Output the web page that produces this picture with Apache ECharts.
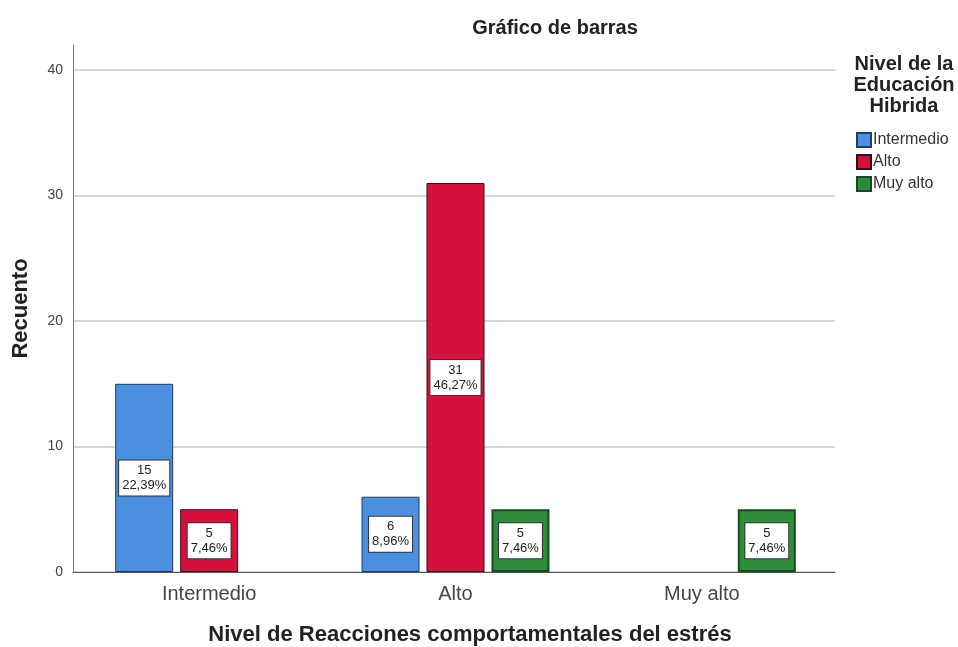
<!DOCTYPE html>
<html>
<head>
<meta charset="utf-8">
<script src="https://cdn.jsdelivr.net/npm/echarts@6/dist/echarts.min.js"></script>
<style>
  html, body { margin: 0; padding: 0; background: #fff; }
  #chart { width: 958px; height: 647px; }
</style>
</head>
<body>
<div id="chart"></div>
<script>
// categorias del eje x
var categorias = ['Intermedio', 'Alto', 'Muy alto']
// recuentos por nivel de educación hibrida (null = sin barra)
var intermedio = [15, 6, null]
var alto = [5, 31, null]
var muyAlto = [null, 5, 5]
var total = 67
var yTicks = [0, 10, 20, 30, 40]

var fuente = 'Liberation Sans, Arial, sans-serif'
var chart = echarts.init(document.getElementById('chart'))

function etiqueta(p) {
    var pct = (p.value / total * 100).toFixed(2).replace('.', ',')
    return p.value + '\n' + pct + '%'
}

var labelStyle = {
    show: true,
    position: 'inside',
    formatter: etiqueta,
    color: '#222',
    fontFamily: fuente,
    fontSize: 13,
    lineHeight: 15,
    backgroundColor: '#fff',
    borderColor: '#333',
    borderWidth: 1,
    padding: [3, 3, 2, 3]
}

var option = {
    animation: false,
    title: [{
        text: 'Gráfico de barras',
        left: 550,
        top: 13,
        textAlign: 'center',
        textStyle: { fontSize: 20, fontWeight: 'bold', color: '#222', fontFamily: fuente }
    }, {
        text: 'Nivel de la\nEducación\nHibrida',
        left: 899,
        top: 49,
        textAlign: 'center',
        textStyle: { fontSize: 20, fontWeight: 'bold', color: '#222', lineHeight: 21, fontFamily: fuente }
    }],
    legend: {
        orient: 'vertical',
        left: 851,
        top: 127,
        itemWidth: 14,
        itemHeight: 14,
        itemGap: 6,
        icon: 'rect',
        textStyle: { fontSize: 16, color: '#333', padding: [0, 0, 0, -3], fontFamily: fuente },
        data: ['Intermedio', 'Alto', 'Muy alto']
    },
    // grid 0: marco, líneas y eje y; grid 1: barras (SPSS deja margen a los lados)
    grid: [
        { left: 73, right: 123, top: 45, bottom: 75, outerBoundsMode: 'none' },
        { left: 86, right: 133, top: 45, bottom: 75, outerBoundsMode: 'none' }
    ],
    xAxis: [{
        type: 'category',
        gridIndex: 0,
        data: categorias,
        name: 'Nivel de Reacciones comportamentales del estrés',
        nameLocation: 'middle',
        nameGap: 52,
        nameTextStyle: { fontSize: 22, fontWeight: 'bold', color: '#222', fontFamily: fuente, padding: [0, 0, 0, 32] },
        axisLine: { lineStyle: { color: '#555', width: 1 } },
        axisTick: { show: false },
        axisLabel: { show: false },
        splitLine: { show: false }
    }, {
        type: 'category',
        gridIndex: 1,
        data: categorias,
        axisLine: { show: false },
        axisTick: { show: false },
        axisLabel: { fontSize: 20, color: '#444', margin: 12, fontFamily: fuente }
    }],
    yAxis: [{
        type: 'value',
        gridIndex: 0,
        min: yTicks[0],
        max: 42,
        interval: 10,
        name: 'Recuento',
        nameLocation: 'middle',
        nameGap: 41,
        nameTextStyle: { fontSize: 22, fontWeight: 'bold', color: '#222', fontFamily: fuente },
        axisLine: { show: true, lineStyle: { color: '#777', width: 1 } },
        axisTick: { show: false },
        axisLabel: { fontSize: 14, color: '#444', margin: 10, showMaxLabel: false, fontFamily: fuente },
        splitLine: { show: true, showMaxLine: false, lineStyle: { color: '#c8c8c8', width: 1.5 } }
    }, {
        type: 'value',
        gridIndex: 1,
        min: yTicks[0],
        max: 42,
        interval: 10,
        show: false,
        splitLine: { show: false }
    }],
    series: [{
        name: 'Intermedio',
        type: 'bar',
        xAxisIndex: 1,
        yAxisIndex: 1,
        data: intermedio,
        barGap: '12%',
        barCategoryGap: '23.7%',
        itemStyle: { color: '#4a8fe0', borderColor: '#1f3a66', borderWidth: 1 },
        label: labelStyle
    }, {
        name: 'Alto',
        type: 'bar',
        xAxisIndex: 1,
        yAxisIndex: 1,
        data: alto,
        itemStyle: { color: '#d6103c', borderColor: '#3a0a14', borderWidth: 1 },
        label: labelStyle
    }, {
        name: 'Muy alto',
        type: 'bar',
        xAxisIndex: 1,
        yAxisIndex: 1,
        data: muyAlto,
        itemStyle: { color: '#2f8c3a', borderColor: '#1a4a20', borderWidth: 2 },
        label: labelStyle
    }]
}

chart.setOption(option)
</script>
</body>
</html>
